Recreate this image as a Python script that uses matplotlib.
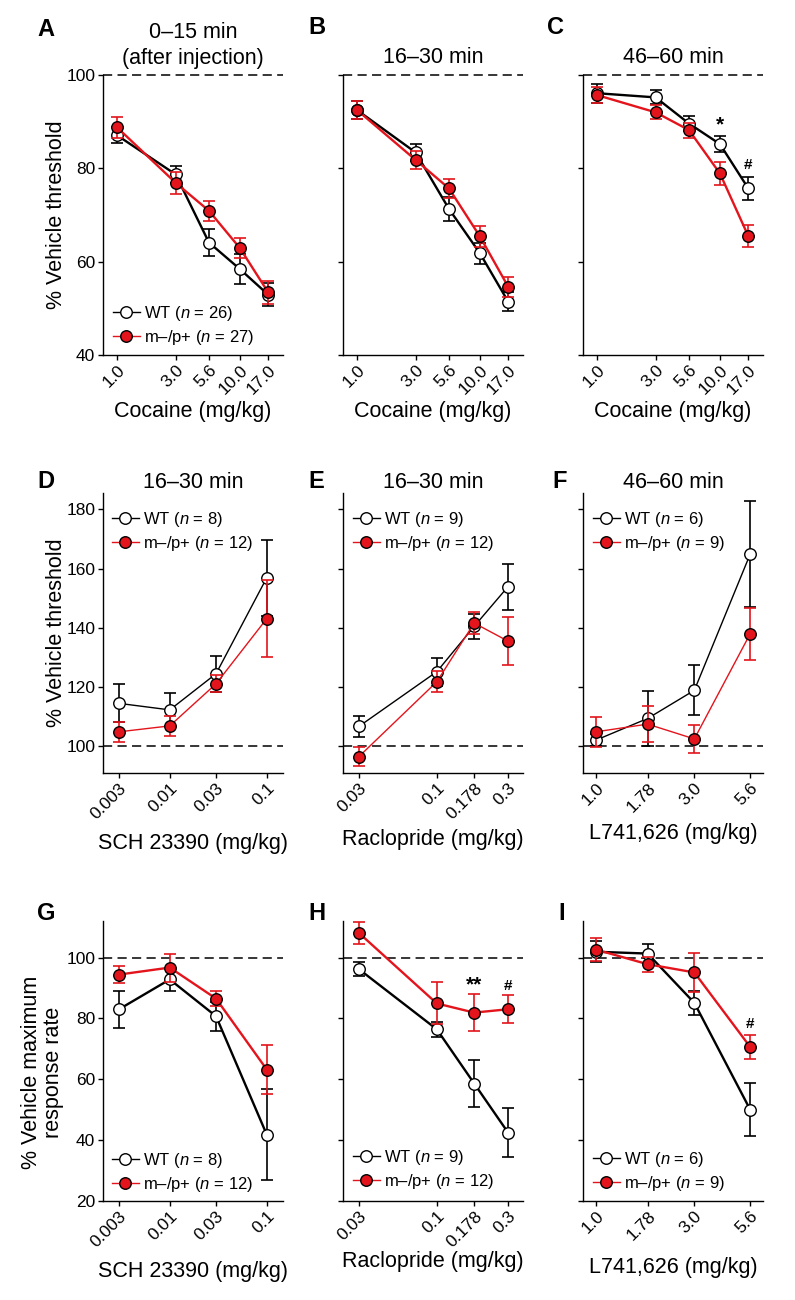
import matplotlib
matplotlib.use("Agg")
import matplotlib.pyplot as plt
from matplotlib.lines import Line2D
from matplotlib.ticker import NullLocator

plt.rcParams["font.family"] = ["Liberation Sans", "DejaVu Sans"]
plt.rcParams["mathtext.fontset"] = "custom"
plt.rcParams["mathtext.it"] = "Liberation Sans:italic"
plt.rcParams["mathtext.rm"] = "Liberation Sans"

RED = "#e3141c"
W, H = 795, 1300

# doses and tick labels
cocaine_dose = [1.0, 3.0, 5.6, 10.0, 17.0]
cocaine_ticks = ["1.0", "3.0", "5.6", "10.0", "17.0"]
sch_dose = [0.003, 0.01, 0.03, 0.1]
sch_ticks = ["0.003", "0.01", "0.03", "0.1"]
raclo_dose = [0.03, 0.1, 0.178, 0.3]
raclo_ticks = ["0.03", "0.1", "0.178", "0.3"]
l741_dose = [1.0, 1.78, 3.0, 5.6]
l741_ticks = ["1.0", "1.78", "3.0", "5.6"]

# A: cocaine, 0-15 min
a_wt = [87.1, 78.7, 64.1, 58.4, 52.9]
a_wt_err = [1.7, 1.8, 2.9, 3.2, 2.5]
a_het = [88.8, 76.9, 70.9, 62.9, 53.4]
a_het_err = [2.2, 2.4, 2.2, 2.1, 2.5]
# B: cocaine, 16-30 min
b_wt = [92.5, 83.4, 71.3, 61.8, 51.4]
b_wt_err = [2.0, 1.8, 2.6, 2.3, 2.0]
b_het = [92.5, 81.8, 75.7, 65.4, 54.6]
b_het_err = [2.0, 2.0, 2.0, 2.3, 2.2]
# C: cocaine, 46-60 min
c_wt = [96.1, 95.2, 89.6, 85.2, 75.7]
c_wt_err = [2.0, 1.5, 1.6, 1.8, 2.4]
c_het = [95.7, 92.0, 88.2, 78.9, 65.5]
c_het_err = [1.8, 1.5, 1.6, 2.4, 2.3]
# D: SCH 23390 thresholds
d_wt = [114.5, 112.3, 124.5, 156.9]
d_wt_err = [6.4, 5.6, 6.1, 12.9]
d_het = [104.9, 106.9, 121.1, 143.1]
d_het_err = [3.3, 3.4, 2.9, 13.0]
# E: raclopride thresholds
e_wt = [106.7, 125.2, 140.5, 153.9]
e_wt_err = [3.6, 4.7, 4.3, 7.8]
e_het = [96.5, 121.8, 141.6, 135.5]
e_het_err = [3.2, 3.6, 3.7, 8.0]
# F: L741,626 thresholds
f_wt = [102.1, 109.4, 118.9, 164.9]
f_wt_err = [2.0, 9.4, 8.4, 17.9]
f_het = [104.9, 107.5, 102.5, 138.0]
f_het_err = [5.0, 6.0, 4.7, 8.8]
# G: SCH 23390 response rate
g_wt = [83.0, 92.8, 80.7, 41.8]
g_wt_err = [6.0, 3.8, 4.8, 14.9]
g_het = [94.4, 96.7, 86.5, 63.2]
g_het_err = [2.7, 4.6, 2.5, 8.2]
# H: raclopride response rate
h_wt = [96.2, 76.4, 58.6, 42.5]
h_wt_err = [2.3, 2.4, 7.8, 7.9]
h_het = [108.1, 84.9, 81.9, 83.0]
h_het_err = [3.6, 6.9, 6.2, 4.6]
# I: L741,626 response rate
i_wt = [101.9, 101.3, 85.1, 50.0]
i_wt_err = [3.4, 3.0, 4.0, 8.8]
i_het = [102.6, 97.8, 95.1, 70.6]
i_het_err = [3.8, 2.5, 6.4, 4.1]

fig = plt.figure(figsize=(W / 100, H / 100), dpi=100)


def px_axes(left, top, right, bottom):
    return fig.add_axes([left / W, 1 - bottom / H, (right - left) / W, (bottom - top) / H])


def draw_panel(ax, dose, ticks, wt, wt_err, het, het_err, n_wt, n_het, lw,
               xlim, ylim, yticks, show_ylabels, legend_loc, legend_anchor):
    ax.axhline(100, color="black", lw=1.1, ls=(0, (6, 3.5)), zorder=1, clip_on=False)
    ax.errorbar(dose, wt, yerr=wt_err, fmt="none", ecolor="black", elinewidth=1.2,
                capsize=4.5, capthick=1.2, zorder=2, clip_on=False)
    ax.plot(dose, wt, color="black", lw=lw, marker="o", ms=8.3, mfc="white",
            mec="black", mew=1.0, zorder=3, clip_on=False)
    ax.errorbar(dose, het, yerr=het_err, fmt="none", ecolor=RED, elinewidth=1.2,
                capsize=4.5, capthick=1.2, zorder=4, clip_on=False)
    ax.plot(dose, het, color=RED, lw=lw, marker="o", ms=8.3, mfc=RED,
            mec="black", mew=1.0, zorder=5, clip_on=False)
    ax.set_xscale("log")
    ax.set_xlim(*xlim)
    ax.set_ylim(*ylim)
    ax.xaxis.set_minor_locator(NullLocator())
    ax.set_xticks(dose)
    ax.set_xticklabels(ticks, rotation=45, ha="right", rotation_mode="anchor")
    ax.set_yticks(yticks)
    if not show_ylabels:
        ax.set_yticklabels([])
    for side in ["top", "right"]:
        ax.spines[side].set_visible(False)
    for side in ["left", "bottom"]:
        ax.spines[side].set_linewidth(1.0)
    ax.tick_params(length=3.5, width=1.0, labelsize=12.5, pad=2)
    # legend keys use thin lines like the original figure
    wt_key = Line2D([], [], color="black", lw=1.0, marker="o", ms=8.3, mfc="white",
                    mec="black", mew=1.0)
    het_key = Line2D([], [], color=RED, lw=1.0, marker="o", ms=8.3, mfc=RED,
                     mec="black", mew=1.0)
    ax.legend([wt_key, het_key],
              [r"WT ($\mathit{n}$ = %d)" % n_wt, r"m–/p+ ($\mathit{n}$ = %d)" % n_het],
              loc=legend_loc, bbox_to_anchor=legend_anchor, frameon=False,
              fontsize=12, handlelength=1.6, handletextpad=0.25, labelspacing=0.3,
              borderpad=0, borderaxespad=0)


lefts = [103, 343, 583]
rights = [283, 523, 763]
tops = [75, 493, 921]
bottoms = [355, 773, 1201]

axes = {}
for r, row in enumerate(["ABC", "DEF", "GHI"]):
    for c, name in enumerate(row):
        axes[name] = px_axes(lefts[c], tops[r], rights[c], bottoms[r])

coc_xlim = (0.77, 22.4)
sch_xlim = (0.00205, 0.147)
rac_xlim = (0.0235, 0.378)
l74_xlim = (0.865, 6.46)

draw_panel(axes["A"], cocaine_dose, cocaine_ticks, a_wt, a_wt_err, a_het, a_het_err, 26, 27, 1.7,
           coc_xlim, (40, 100), [40, 60, 80, 100], True, "lower left", (0.055, 0.03))
draw_panel(axes["B"], cocaine_dose, cocaine_ticks, b_wt, b_wt_err, b_het, b_het_err, 26, 27, 1.7,
           coc_xlim, (40, 100), [40, 60, 80, 100], False, "lower left", (0.055, 0.03))
axes["B"].get_legend().remove()
draw_panel(axes["C"], cocaine_dose, cocaine_ticks, c_wt, c_wt_err, c_het, c_het_err, 26, 27, 1.7,
           coc_xlim, (40, 100), [40, 60, 80, 100], False, "lower left", (0.055, 0.03))
axes["C"].get_legend().remove()

draw_panel(axes["D"], sch_dose, sch_ticks, d_wt, d_wt_err, d_het, d_het_err, 8, 12, 1.0,
           sch_xlim, (91, 185.5), [100, 120, 140, 160, 180], True, "upper left", (0.05, 0.94))
draw_panel(axes["E"], raclo_dose, raclo_ticks, e_wt, e_wt_err, e_het, e_het_err, 9, 12, 1.0,
           rac_xlim, (91, 185.5), [100, 120, 140, 160, 180], False, "upper left", (0.055, 0.94))
draw_panel(axes["F"], l741_dose, l741_ticks, f_wt, f_wt_err, f_het, f_het_err, 6, 9, 1.0,
           l74_xlim, (91, 185.5), [100, 120, 140, 160, 180], False, "upper left", (0.055, 0.94))

draw_panel(axes["G"], sch_dose, sch_ticks, g_wt, g_wt_err, g_het, g_het_err, 8, 12, 1.7,
           sch_xlim, (20, 112), [20, 40, 60, 80, 100], True, "lower left", (0.05, 0.025))
draw_panel(axes["H"], raclo_dose, raclo_ticks, h_wt, h_wt_err, h_het, h_het_err, 9, 12, 1.7,
           rac_xlim, (20, 112), [20, 40, 60, 80, 100], False, "lower left", (0.055, 0.035))
draw_panel(axes["I"], l741_dose, l741_ticks, i_wt, i_wt_err, i_het, i_het_err, 6, 9, 1.7,
           l74_xlim, (20, 112), [20, 40, 60, 80, 100], False, "lower left", (0.055, 0.03))

# titles
axes["A"].set_title("0–15 min\n(after injection)", fontsize=15.5, pad=8, linespacing=1.3)
axes["B"].set_title("16–30 min", fontsize=15.5, pad=8.5)
axes["C"].set_title("46–60 min", fontsize=15.5, pad=8.5)
axes["D"].set_title("16–30 min", fontsize=15.5, pad=3.5)
axes["E"].set_title("16–30 min", fontsize=15.5, pad=3.5)
axes["F"].set_title("46–60 min", fontsize=15.5, pad=3.5)

# axis labels
xlabels = {"A": ("Cocaine (mg/kg)", -0.165), "B": ("Cocaine (mg/kg)", -0.165),
           "C": ("Cocaine (mg/kg)", -0.165), "D": ("SCH 23390 (mg/kg)", -0.215),
           "E": ("Raclopride (mg/kg)", -0.2), "F": ("L741,626 (mg/kg)", -0.18),
           "G": ("SCH 23390 (mg/kg)", -0.215), "H": ("Raclopride (mg/kg)", -0.18),
           "I": ("L741,626 (mg/kg)", -0.2)}
for name, (text, ypos) in xlabels.items():
    axes[name].set_xlabel(text, fontsize=15.5)
    axes[name].xaxis.set_label_coords(0.5, ypos)

axes["A"].set_ylabel("% Vehicle threshold", fontsize=15.5)
axes["A"].yaxis.set_label_coords(-0.2, 0.5)
axes["D"].set_ylabel("% Vehicle threshold", fontsize=15.5)
axes["D"].yaxis.set_label_coords(-0.2, 0.5)
axes["G"].set_ylabel("% Vehicle maximum\nresponse rate", fontsize=15.5, linespacing=1.05)
axes["G"].yaxis.set_label_coords(-0.215, 0.46)

# significance marks
axes["C"].text(10.0, 89.3, "*", ha="center", va="center", fontsize=15, fontweight="bold")
axes["C"].text(17.0, 80.7, "#", ha="center", va="center", fontsize=11, fontweight="bold")
axes["H"].text(0.178, 90.9, "**", ha="center", va="center", fontsize=15, fontweight="bold")
axes["H"].text(0.3, 90.6, "#", ha="center", va="center", fontsize=11, fontweight="bold")
axes["I"].text(5.6, 78.3, "#", ha="center", va="center", fontsize=11, fontweight="bold")

# panel letters
letters = {"A": (37, 30), "B": (308, 28), "C": (547, 27), "D": (37, 482), "E": (308, 481),
           "F": (552, 481), "G": (37, 913), "H": (308, 913), "I": (558, 913)}
for name, (x, y) in letters.items():
    fig.text(x / W, 1 - y / H, name, fontsize=17, fontweight="bold", ha="left", va="center")

fig.savefig("out.png", dpi=100)
